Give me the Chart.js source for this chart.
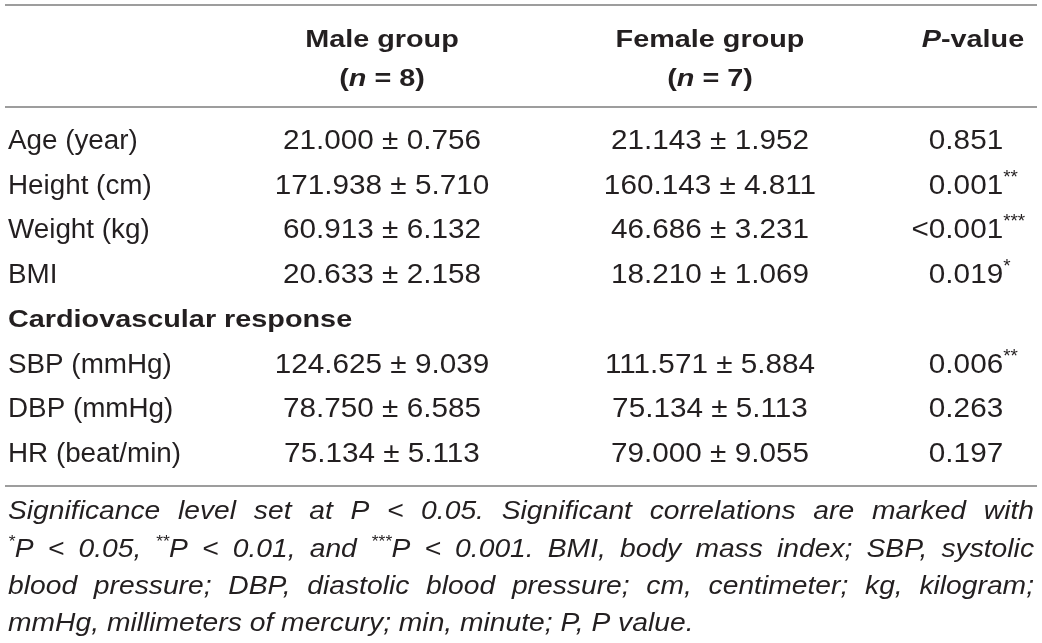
<!DOCTYPE html>
<html>
<head>
<meta charset="utf-8">
<script src="https://cdn.jsdelivr.net/npm/chart.js@4.4.1/dist/chart.umd.min.js"></script>
<style>
  html, body { margin: 0; padding: 0; background: #fff; }
  #wrap { width: 1042px; height: 643px; }
</style>
</head>
<body>
<div id="wrap"><canvas id="table" width="1042" height="643"></canvas></div>
<script>
// table content
const rowLabels = ['Age (year)', 'Height (cm)', 'Weight (kg)', 'BMI', 'Cardiovascular response',
  'SBP (mmHg)', 'DBP (mmHg)', 'HR (beat/min)'];
const sectionRows = [false, false, false, false, true, false, false, false];
const groupNames = ['Male group', 'Female group'];
const groupSizes = [8, 7];
const maleMean = [21.000, 171.938, 60.913, 20.633, null, 124.625, 78.750, 75.134];
const maleSD = [0.756, 5.710, 6.132, 2.158, null, 9.039, 6.585, 5.113];
const femaleMean = [21.143, 160.143, 46.686, 18.210, null, 111.571, 75.134, 79.000];
const femaleSD = [1.952, 4.811, 3.231, 1.069, null, 5.884, 5.113, 9.055];
const pValues = [0.851, 0.001, 0.001, 0.019, null, 0.006, 0.263, 0.197];
const pBelow = [false, false, true, false, null, false, false, false]; // shown as "<"
const footnoteLines = [
  'Significance level set at P < 0.05. Significant correlations are marked with',
  '*P < 0.05, **P < 0.01, and ***P < 0.001. BMI, body mass index; SBP, systolic',
  'blood pressure; DBP, diastolic blood pressure; cm, centimeter; kg, kilogram;',
  'mmHg, millimeters of mercury; min, minute; P, P value.'
];

const FONT = '"Liberation Sans", Arial, Helvetica, sans-serif';
const INK = '#231f20';
const RULE = '#9d9d9d';

// layout: column anchors on x (0..1042), vertical slots on y in row units
const colX = { left: 5, label: 8, male: 382, female: 710, p: 966, pHead: 973, right: 1037 };
const slots = { topRule: -2.986, head1: -2.058, head2: -1.185, midRule: -0.716,
  bottomRule: 7.761, note: [8.298, 9.148, 9.975, 10.803] };

function stars(p, below) {
  if (p < 0.001 || (below && p <= 0.001)) return '***';
  if (p < 0.01) return '**';
  if (p < 0.05) return '*';
  return '';
}

function fmt(m, sd) {
  return m.toFixed(3) + ' \u00b1 ' + sd.toFixed(3);
}

// font + horizontal stretch per text style
const st = {
  label: { font: '27px ' + FONT, sx: 1.03 },
  num: { font: '27px ' + FONT, sx: 1.1 },
  sup: { font: '18px ' + FONT, sx: 1.05, rise: -11 },
  bold: { font: 'bold 24px ' + FONT, sx: 1.2 },
  boldItalic: { font: 'italic bold 24px ' + FONT, sx: 1.2 },
  note: { font: 'italic 25px ' + FONT, sx: 1.13 },
  noteSup: { font: 'italic 16px ' + FONT, sx: 1.1, rise: -10 }
};

function run(text, s) {
  return Object.assign({ text: text }, s);
}

function runsWidth(ctx, runs) {
  let w = 0;
  runs.forEach(r => { ctx.font = r.font; w += ctx.measureText(r.text).width * r.sx; });
  return w;
}

function drawRuns(ctx, runs, x, y, align) {
  const w = runsWidth(ctx, runs);
  let cx = align === 'center' ? x - w / 2 : align === 'right' ? x - w : x;
  runs.forEach(r => {
    ctx.font = r.font;
    ctx.save();
    ctx.translate(cx, y + (r.rise || 0));
    ctx.scale(r.sx, 1);
    ctx.fillText(r.text, 0, 0);
    ctx.restore();
    cx += ctx.measureText(r.text).width * r.sx;
  });
  return w;
}

function wordRuns(word) {
  const m = word.match(/^(\*+)(.*)$/);
  if (m) return [run(m[1], st.noteSup), run(m[2], st.note)];
  return [run(word, st.note)];
}

const cells = ['label', 'male', 'female', 'p'];

const tablePlugin = {
  id: 'tableText',
  afterDatasetsDraw(chart) {
    const ctx = chart.ctx;
    const xs = chart.scales.x, ys = chart.scales.y;
    ctx.save();
    ctx.fillStyle = INK;
    ctx.textBaseline = 'alphabetic';

    // rules
    ctx.strokeStyle = RULE;
    ctx.lineWidth = 2;
    [slots.topRule, slots.midRule, slots.bottomRule].forEach(v => {
      const py = Math.round(ys.getPixelForValue(v));
      ctx.beginPath();
      ctx.moveTo(xs.getPixelForValue(colX.left), py);
      ctx.lineTo(xs.getPixelForValue(colX.right), py);
      ctx.stroke();
    });

    // header
    const h1 = ys.getPixelForValue(slots.head1), h2 = ys.getPixelForValue(slots.head2);
    [colX.male, colX.female].forEach((cx, g) => {
      const px = xs.getPixelForValue(cx);
      drawRuns(ctx, [run(groupNames[g], st.bold)], px, h1, 'center');
      drawRuns(ctx, [run('(', st.bold), run('n', st.boldItalic),
        run(' = ' + groupSizes[g] + ')', st.bold)], px, h2, 'center');
    });
    drawRuns(ctx, [run('P', st.boldItalic), run('-value', st.bold)],
      xs.getPixelForValue(colX.pHead), h1, 'center');

    // body cells, placed at the dataset points
    chart.data.datasets.forEach((ds, di) => {
      const meta = chart.getDatasetMeta(di);
      meta.data.forEach((pt, j) => {
        const i = ds.data[j].row;
        const kind = cells[di];
        const y = pt.y + (sectionRows[i] ? 9 : 10);
        if (kind === 'label') {
          drawRuns(ctx, [run(rowLabels[i], sectionRows[i] ? st.bold : st.label)], pt.x, y, 'left');
        } else if (kind === 'male') {
          drawRuns(ctx, [run(fmt(maleMean[i], maleSD[i]), st.num)], pt.x, y, 'center');
        } else if (kind === 'female') {
          drawRuns(ctx, [run(fmt(femaleMean[i], femaleSD[i]), st.num)], pt.x, y, 'center');
        } else {
          const num = pValues[i].toFixed(3);
          const w = drawRuns(ctx, [run(num, st.num)], pt.x, y, 'center');
          if (pBelow[i]) drawRuns(ctx, [run('<', st.num)], pt.x - w / 2, y, 'right');
          const s = stars(pValues[i], pBelow[i]);
          if (s) drawRuns(ctx, [run(s, st.sup)], pt.x + w / 2, y, 'left');
        }
      });
    });

    // footnote, justified except the last line
    const left = xs.getPixelForValue(colX.label), right = xs.getPixelForValue(colX.right - 3);
    footnoteLines.forEach((line, li) => {
      const y = ys.getPixelForValue(slots.note[li]) + 9;
      const words = line.split(' ').map(wordRuns);
      const widths = words.map(r => runsWidth(ctx, r));
      const total = widths.reduce((a, b) => a + b, 0);
      ctx.font = st.note.font;
      const natural = ctx.measureText(' ').width * st.note.sx;
      const last = li === footnoteLines.length - 1;
      const gap = last ? natural : (right - left - total) / (words.length - 1);
      let cx = left;
      words.forEach((r, k) => {
        drawRuns(ctx, r, cx, y, 'left');
        cx += widths[k] + gap;
      });
    });
    ctx.restore();
  }
};

function column(kind) {
  const pts = [];
  rowLabels.forEach((_, i) => {
    if (kind === 'label' || !sectionRows[i]) pts.push({ x: colX[kind], y: i, row: i });
  });
  return { label: kind, data: pts, pointRadius: 0, pointHoverRadius: 0, showLine: false };
}

new Chart(document.getElementById('table'), {
  type: 'scatter',
  data: { datasets: cells.map(column) },
  options: {
    responsive: false,
    animation: false,
    events: [],
    layout: { padding: 0 },
    plugins: { legend: { display: false }, tooltip: { enabled: false } },
    scales: {
      x: { type: 'linear', display: false, min: 0, max: 1042 },
      y: { type: 'linear', display: false, reverse: true, min: -3.109, max: 11.273 }
    }
  },
  plugins: [tablePlugin]
});
</script>
</body>
</html>
